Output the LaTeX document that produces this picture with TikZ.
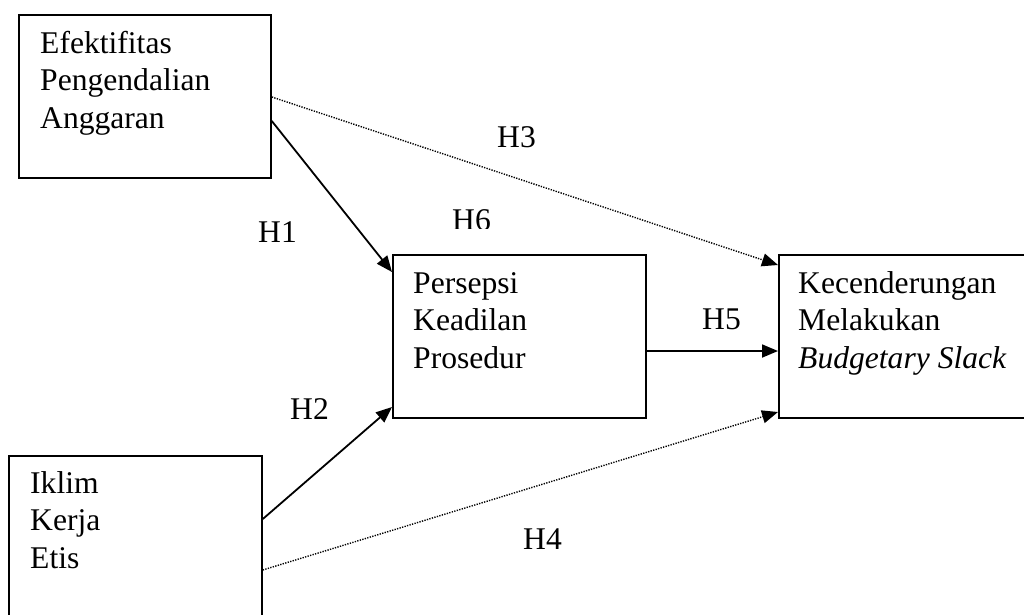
\documentclass[tikz,border=0pt]{standalone}
\usepackage{fontspec}
\setmainfont{Liberation Serif}
\usetikzlibrary{arrows.meta}
\begin{document}
\begin{tikzpicture}[x=1pt,y=-1pt,
  box/.style={draw, line width=1.8pt, anchor=north west, minimum width=253pt, minimum height=163pt, inner sep=0pt},
  txt/.style={anchor=base west, inner sep=0pt, align=left, font=\fontsize{31.6}{37.5}\selectfont},
  lbl/.style={anchor=base west, inner sep=0pt, font=\fontsize{31.6}{37.5}\selectfont},
  solidarrow/.style={line width=1.8pt, -{Triangle[length=16pt,width=13pt]}},
  dotarrow/.style={line width=1.4pt, dash pattern=on 1.3pt off 1.3pt, -{Triangle[length=16pt,width=13pt]}}
]
\useasboundingbox (0,0) rectangle (1024,614);
\clip (0,0) rectangle (1024,614);
\node[box, minimum width=252pt] (A) at (18,14) {};
\node[box] (B) at (392,254) {};
\node[box] (C) at (778,254) {};
\node[box] (D) at (8,455) {};
\node[txt] (tA) at (40,128) {Efektifitas\\Pengendalian\\Anggaran};
\node[txt] (tB) at (413,368) {Persepsi\\Keadilan\\Prosedur};
\node[txt] (tC) at (798,368) {Kecenderungan\\Melakukan\\\textit{Budgetary Slack}};
\node[txt] (tD) at (30,568) {Iklim\\Kerja\\Etis};
\coordinate (a1) at ([yshift=-107pt]A.north east);
\coordinate (a3) at ([yshift=-83pt]A.north east);
\coordinate (b1) at ([yshift=-18pt]B.north west);
\coordinate (b2) at ([yshift=-153pt]B.north west);
\coordinate (b5) at ([yshift=-97pt]B.north east);
\coordinate (c3) at ([yshift=-11pt]C.north west);
\coordinate (c5) at ([yshift=-97pt]C.north west);
\coordinate (c4) at ([yshift=-158pt]C.north west);
\coordinate (d2) at ([yshift=-64pt]D.north east);
\coordinate (d4) at ([yshift=-115pt]D.north east);
\draw[solidarrow] (a1) -- (b1);
\draw[dotarrow] (a3) -- (c3);
\draw[solidarrow] (b5) -- (c5);
\draw[solidarrow] (d2) -- (b2);
\draw[dotarrow] (d4) -- (c4);
\node[lbl] (h1) at (258,242) {H1};
\node[lbl] (h2) at (290,419) {H2};
\node[lbl] (h3) at (497,147) {H3};
\node[lbl] (h4) at (523,549) {H4};
\node[lbl] (h5) at (702,329) {H5};
\begin{scope}
\clip (440,200) rectangle (500,228);
\node[lbl] (h6) at (452,230) {H6};
\end{scope}
\end{tikzpicture}
\end{document}
